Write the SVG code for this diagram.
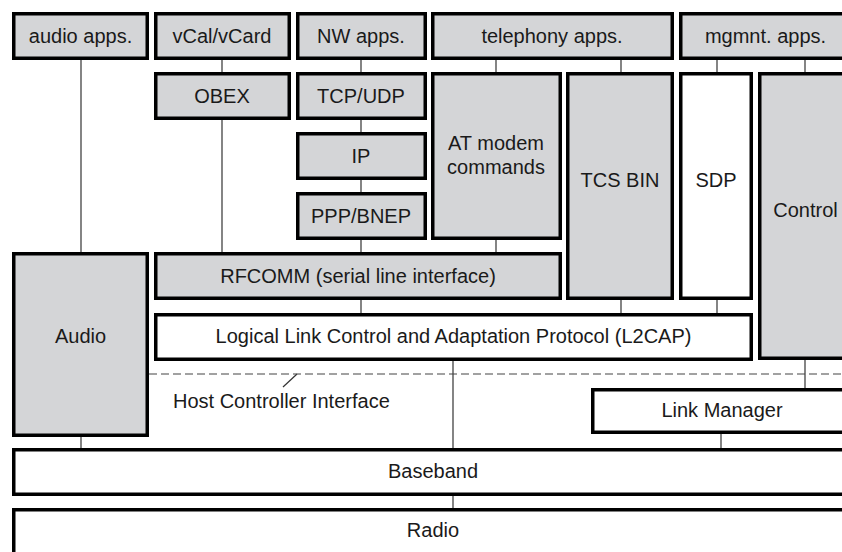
<svg xmlns="http://www.w3.org/2000/svg" width="842" height="552" viewBox="0 0 842 552">
<style>
.g{fill:#d4d5d7;stroke:#000;stroke-width:3.5}
.w{fill:#fff;stroke:#000;stroke-width:3.5}
text{font-family:"Liberation Sans",Arial,sans-serif;font-size:20px;fill:#1a1a1a;text-anchor:middle}
.c line{stroke:#333;stroke-width:1.2}
.d{stroke:#444;stroke-width:1.2;stroke-dasharray:8 4;fill:none}
</style>
<rect width="842" height="552" fill="#fff"/>
<g class="c" id="connectors">
<line x1="81" y1="60" x2="81" y2="252"/>
<line x1="222" y1="60" x2="222" y2="72"/>
<line x1="222" y1="120" x2="222" y2="252"/>
<line x1="361" y1="60" x2="361" y2="72"/>
<line x1="361" y1="120" x2="361" y2="132"/>
<line x1="361" y1="180" x2="361" y2="192"/>
<line x1="361" y1="240" x2="361" y2="252"/>
<line x1="496" y1="60" x2="496" y2="72"/>
<line x1="496" y1="240" x2="496" y2="252"/>
<line x1="361" y1="300" x2="361" y2="313"/>
<line x1="621" y1="60" x2="621" y2="72"/>
<line x1="621" y1="300" x2="621" y2="313"/>
<line x1="717" y1="60" x2="717" y2="72"/>
<line x1="717" y1="300" x2="717" y2="313"/>
<line x1="805" y1="60" x2="805" y2="72"/>
<line x1="805" y1="360" x2="805" y2="388"/>
<line x1="453" y1="361" x2="453" y2="448"/>
<line x1="453" y1="496" x2="453" y2="508"/>
<line x1="81" y1="437" x2="81" y2="448"/>
<line x1="721" y1="434" x2="721" y2="448"/>
<line x1="283" y1="387" x2="297" y2="374"/>
</g>
<line class="d" x1="149" y1="374" x2="842" y2="374"/>
<g id="audio-apps"><rect class="g" x="13.75" y="13.75" width="133.5" height="44.5"/><text x="80.5" y="43">audio apps.</text></g>
<g id="vcal"><rect class="g" x="155.75" y="13.75" width="133.5" height="44.5"/><text x="222" y="43">vCal/vCard</text></g>
<g id="nw-apps"><rect class="g" x="297.75" y="13.75" width="127.5" height="44.5"/><text x="361" y="43">NW apps.</text></g>
<g id="telephony-apps"><rect class="g" x="432.75" y="13.75" width="239.5" height="44.5"/><text x="552" y="43">telephony apps.</text></g>
<g id="mgmnt-apps"><rect class="g" x="680.75" y="13.75" width="180" height="44.5"/><text x="765.5" y="43">mgmnt. apps.</text></g>
<g id="obex"><rect class="g" x="155.75" y="73.75" width="133.5" height="44.5"/><text x="222" y="103">OBEX</text></g>
<g id="tcpudp"><rect class="g" x="297.75" y="73.75" width="127.5" height="44.5"/><text x="361" y="103">TCP/UDP</text></g>
<g id="ip"><rect class="g" x="297.75" y="133.75" width="127.5" height="44.5"/><text x="361" y="163">IP</text></g>
<g id="pppbnep"><rect class="g" x="297.75" y="193.75" width="127.5" height="44.5"/><text x="361" y="223">PPP/BNEP</text></g>
<g id="at-modem"><rect class="g" x="432.75" y="73.75" width="127.5" height="164.5"/><text x="496" y="150">AT modem</text><text x="496" y="174">commands</text></g>
<g id="tcs-bin"><rect class="g" x="567.75" y="73.75" width="104.5" height="224.5"/><text x="620" y="187">TCS BIN</text></g>
<g id="sdp"><rect class="w" x="680.75" y="73.75" width="70.5" height="224.5"/><text x="716" y="187">SDP</text></g>
<g id="control"><rect class="g" x="759.75" y="73.75" width="100" height="284.5"/><text x="805.5" y="217">Control</text></g>
<g id="audio"><rect class="g" x="13.75" y="253.75" width="133.5" height="181.5"/><text x="80.5" y="343">Audio</text></g>
<g id="rfcomm"><rect class="g" x="155.75" y="253.75" width="404.5" height="44.5"/><text x="358" y="283">RFCOMM (serial line interface)</text></g>
<g id="l2cap"><rect class="w" x="155.75" y="314.75" width="595.5" height="44.5"/><text x="453.5" y="343">Logical Link Control and Adaptation Protocol (L2CAP)</text></g>
<g id="hci"><text x="173" y="408" style="text-anchor:start">Host Controller Interface</text></g>
<g id="link-manager"><rect class="w" x="592.75" y="389.75" width="270" height="42.5"/><text x="722" y="417">Link Manager</text></g>
<g id="baseband"><rect class="w" x="13.75" y="449.75" width="850" height="44.5"/><text x="433" y="478">Baseband</text></g>
<g id="radio"><rect class="w" x="13.75" y="509.75" width="850" height="60"/><text x="433" y="537">Radio</text></g>
</svg>
